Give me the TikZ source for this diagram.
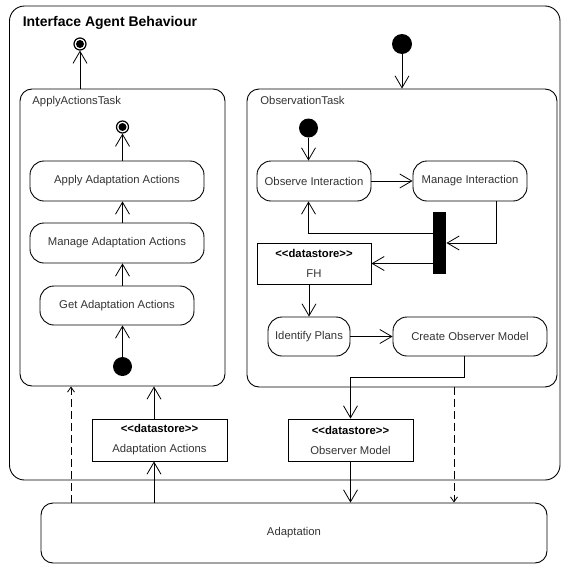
\documentclass[tikz,border=0pt]{standalone}
\usepackage{fontspec}
\setmainfont{Liberation Sans}
\usetikzlibrary{arrows.meta,calc}

\tikzset{
  txt/.style={font=\fontsize{11.3}{13}\selectfont, text=black!80},
  frame/.style={draw, rounded corners=15pt, inner sep=0pt},
  container/.style={draw, rounded corners=12pt, inner sep=0pt},
  act/.style={draw, rounded corners=14pt, inner sep=0pt, txt},
  store/.style={draw, inner sep=0pt, align=center,
    font=\fontsize{11.3}{20}\selectfont, text=black!80},
  startdot/.style={circle, fill=black, inner sep=0pt, minimum size=19pt},
  enddot/.style={circle, draw, line width=1.2pt, inner sep=0pt, minimum size=12pt,
    path picture={\fill[black] (path picture bounding box.center) circle (4pt);}},
  forkbar/.style={fill=black, inner sep=0pt, minimum width=13pt, minimum height=62pt},
  flow/.style={-{Straight Barb[length=12pt,width=14pt,line width=0.8pt]}},
  dep/.style={dash pattern=on 8pt off 4pt,
    -{Straight Barb[length=5pt,width=7pt,line width=0.8pt]}},
}

\newcommand{\stereo}{\textbf{\textcolor{black}{<\kern0pt<datastore>\kern0pt>}}}

\begin{document}
\begin{tikzpicture}[x=1pt, y=-1pt, line width=0.9pt]
  \useasboundingbox (0,0) rectangle (561,565);

  % outer activity frame
  \node[frame, minimum width=550.5pt, minimum height=474pt] (agent) at (284.75,243) {};
  \node[anchor=base west, font=\fontsize{14}{16}\selectfont\bfseries, text=black]
    (agentlbl) at (19,26) {Interface Agent Behaviour};

  % sub-activities
  \node[container, minimum width=205pt, minimum height=297pt] (apptask) at (122.5,237.5) {};
  \node[txt, anchor=base west, inner sep=0pt] (applbl) at (32,104.5) {ApplyActionsTask};
  \node[container, minimum width=310pt, minimum height=298pt] (obstask) at (402,238) {};
  \node[txt, anchor=base west, inner sep=0pt] (obslbl) at (260,104.5) {ObservationTask};

  % initial and final states
  \node[enddot] (fin1) at (80,44) {};
  \node[startdot, minimum size=20pt] (init1) at (402,44) {};
  \node[enddot] (fin2) at (122.5,127) {};
  \node[startdot] (init2) at (122.5,366.5) {};
  \node[startdot] (init3) at (308.5,128) {};

  % ApplyActionsTask actions
  \node[act, minimum width=174pt, minimum height=40pt] (applyact) at (117,181) {Apply Adaptation Actions};
  \node[act, minimum width=174pt, minimum height=40pt] (manageact) at (117,243) {Manage Adaptation Actions};
  \node[act, minimum width=154pt, minimum height=39pt] (getact) at (117,305.5) {Get Adaptation Actions};

  % ObservationTask actions
  \node[act, minimum width=114pt, minimum height=40pt] (obsint) at (314,181) {Observe Interaction};
  \node[act, minimum width=114pt, minimum height=40pt] (mgint) at (470,181) {Manage Interaction};
  \node[forkbar] (bar) at (439.5,243) {};
  \node[store, minimum width=114pt, minimum height=41pt] (fh) at (314,263.5) {\stereo\\FH};
  \node[act, minimum width=82pt, minimum height=39pt] (idplans) at (309,336.5) {Identify Plans};
  \node[act, minimum width=154pt, minimum height=39pt] (com) at (470,336.5) {Create Observer Model};

  % data stores and the adaptation activity
  \node[store, minimum width=135pt, minimum height=42pt] (aads) at (159.5,440) {\stereo\\Adaptation Actions};
  \node[store, minimum width=125pt, minimum height=42pt] (omds) at (350.5,440) {\stereo\\Observer Model};
  \node[act, rounded corners=12pt, minimum width=506pt, minimum height=60pt] (adapt) at (294,533) {Adaptation};

  % helper coordinates for off-centre connectors
  \coordinate (aax) at ([xshift=-5.5pt]aads.center);
  \coordinate (d1) at ([xshift=-51.5pt]apptask.south);
  \coordinate (d2) at ([xshift=52pt]obstask.south);

  % ApplyActionsTask flow
  \draw[flow] (apptask.north -| fin1) -- (fin1);
  \draw[flow] (applyact.north -| fin2) -- (fin2);
  \draw[flow] (manageact.north -| fin2) -- (fin2 |- applyact.south);
  \draw[flow] (getact.north -| fin2) -- (fin2 |- manageact.south);
  \draw[flow] (init2) -- (init2 |- getact.south);

  % ObservationTask flow
  \draw[flow] (init1) -- (init1 |- obstask.north);
  \draw[flow] (init3) -- (init3 |- obsint.north);
  \draw[flow] (obsint) -- (mgint);
  \draw[flow] ([xshift=26pt]mgint.south) |- (bar.east);
  \draw[flow] ([yshift=10pt]bar.west) -| (init3 |- obsint.south);
  \draw[flow] (bar.west |- fh.east) -- (fh.east);
  \draw[flow] (idplans.north |- fh.south) -- (idplans.north);
  \draw[flow] (idplans) -- (com);
  \draw[flow] ([xshift=-6pt]com.south) -- ++(0,21) -| (omds.north);

  % object flows to and from Adaptation
  \draw[flow] (omds.south) -- (omds.south |- adapt.north);
  \draw[flow] (aax |- adapt.north) -- (aax |- aads.south);
  \draw[flow] (aax |- aads.north) -- (aax |- apptask.south);
  \draw[dep] (d1 |- adapt.north) -- (d1);
  \draw[dep] (d2) -- (d2 |- adapt.north);
\end{tikzpicture}
\end{document}
